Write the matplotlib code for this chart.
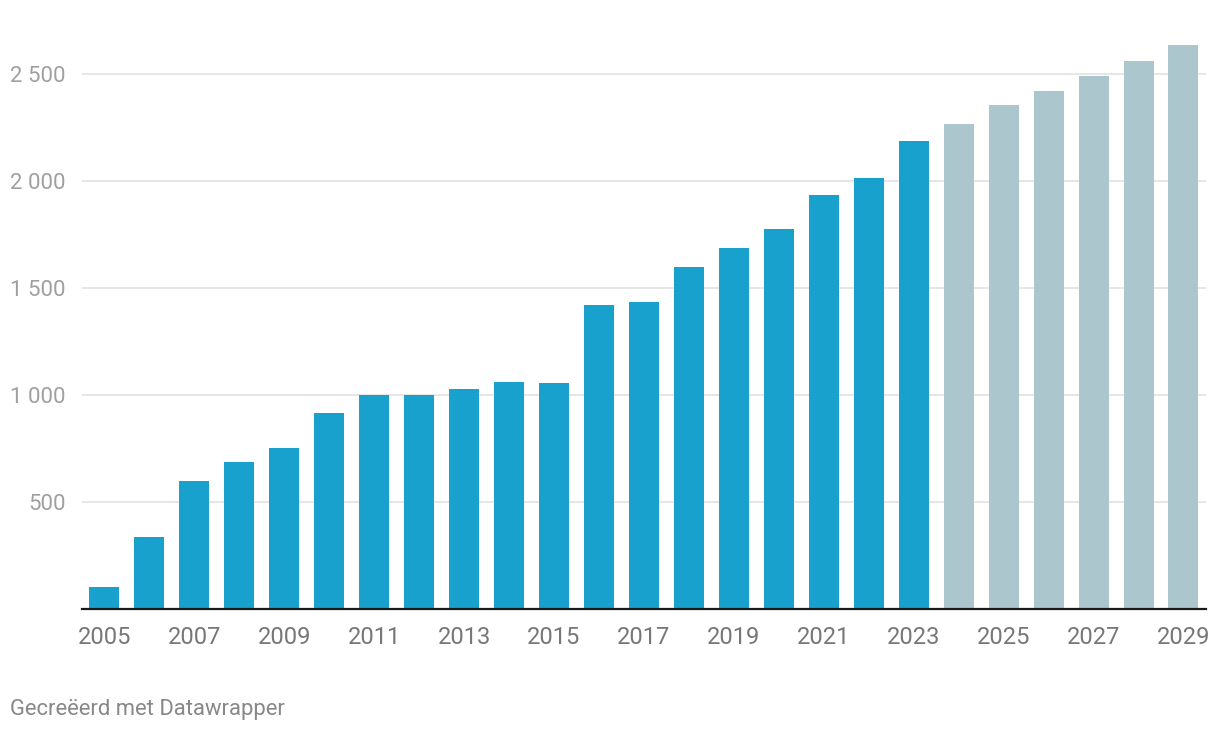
import matplotlib.pyplot as plt

plt.rcParams['font.family'] = ['Roboto', 'DejaVu Sans']

years = list(range(2005, 2030))
values = [104, 338, 599, 688, 753, 916, 1000, 1000, 1028, 1062, 1057, 1421, 1435,
          1598, 1687, 1776, 1934, 2014, 2186, 2265, 2354, 2420, 2490, 2560, 2635]
forecast_from = 2024
yticks = [500, 1000, 1500, 2000, 2500]
xticks = list(range(2005, 2030, 2))

colors = ['#18a1cd' if y < forecast_from else '#abc6cc' for y in years]

fig = plt.figure(figsize=(12.2, 7.32), dpi=100)
ax = fig.add_axes([0.0672, 0.1676, 0.9213, 0.7901])

ax.bar(years, values, width=0.667, color=colors, zorder=2)

ax.set_xlim(2004.5, 2029.5)
ax.set_ylim(0, 2700)
ax.set_yticks(yticks)
ax.set_yticklabels([f'{v:,}'.replace(',', ' ') for v in yticks])
ax.set_xticks(xticks)
ax.set_xticklabels([str(x) for x in xticks])

ax.grid(axis='y', color='#e6e6e6', linewidth=1.4, zorder=0)
for s in ['top', 'right', 'left']:
    ax.spines[s].set_visible(False)
ax.spines['bottom'].set_color('#1a1a1a')
ax.spines['bottom'].set_linewidth(1.6)
ax.spines['bottom'].set_zorder(3)

ax.tick_params(axis='y', length=0, pad=12, labelsize=16, labelcolor='#a0a0a0')
ax.tick_params(axis='x', length=0, pad=12, labelsize=17, labelcolor='#777777')

fig.text(0.0082, 0.0232, 'Gecreëerd met Datawrapper', fontsize=15.8, color='#888888',
         ha='left', va='baseline')

fig.savefig('out.png', dpi=100)
